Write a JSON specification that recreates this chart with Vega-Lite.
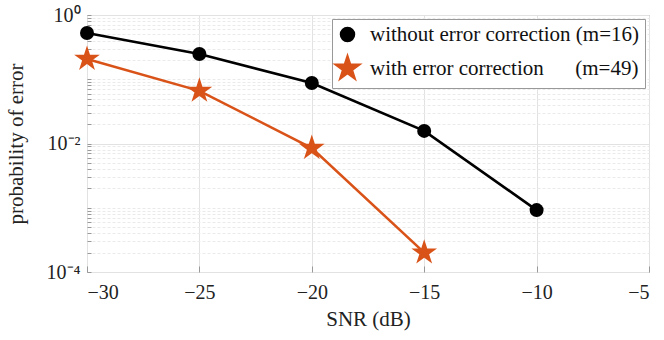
{
  "$schema": "https://vega.github.io/schema/vega-lite/v6.json",
  "width": 562,
  "height": 257,
  "autosize": {"type": "none"},
  "padding": {"left": 87, "top": 15, "right": 15, "bottom": 68},
  "background": "white",
  "config": {
    "view": {"stroke": "#999999", "strokeWidth": 1},
    "font": "Liberation Serif",
    "axis": {"labelFont": "Liberation Serif", "titleFont": "Liberation Serif", "labelColor": "#222222", "titleColor": "#222222", "titleFontWeight": "normal", "labelFontSize": 20, "titleFontSize": 21, "domain": false, "tickColor": "#999999"}
  },
  "data": {
    "values": [
      {"snr": -30, "pe": 0.525, "series": "without error correction (m=16)"},
      {"snr": -25, "pe": 0.247, "series": "without error correction (m=16)"},
      {"snr": -20, "pe": 0.0875, "series": "without error correction (m=16)"},
      {"snr": -15, "pe": 0.0157, "series": "without error correction (m=16)"},
      {"snr": -10, "pe": 0.00092, "series": "without error correction (m=16)"},
      {"snr": -30, "pe": 0.207, "series": "with error correction\u00a0\u00a0\u00a0\u00a0\u00a0\u00a0(m=49)"},
      {"snr": -25, "pe": 0.066, "series": "with error correction\u00a0\u00a0\u00a0\u00a0\u00a0\u00a0(m=49)"},
      {"snr": -20, "pe": 0.0085, "series": "with error correction\u00a0\u00a0\u00a0\u00a0\u00a0\u00a0(m=49)"},
      {"snr": -15, "pe": 0.0002, "series": "with error correction\u00a0\u00a0\u00a0\u00a0\u00a0\u00a0(m=49)"}
    ]
  },
  "encoding": {
    "x": {"field": "snr", "type": "quantitative", "scale": {"domain": [-30, -5], "nice": false, "zero": false},
      "axis": {"values": [-30, -25, -20, -15, -10, -5], "title": "SNR (dB)", "grid": true, "gridColor": "#e2e2e2", "tickSize": -6, "labelPadding": 16, "titlePadding": 6}},
    "y": {"field": "pe", "type": "quantitative", "scale": {"type": "log", "domain": [0.0001, 1], "nice": false},
      "axis": {"title": "probability of error", "titlePadding": 20, "labelPadding": 11,
        "values": [0.0001, 0.0002, 0.0003, 0.0004, 0.0005, 0.0006, 0.0007, 0.0008, 0.0009, 0.001, 0.002, 0.003, 0.004, 0.005, 0.006, 0.007, 0.008, 0.009, 0.01, 0.02, 0.03, 0.04, 0.05, 0.06, 0.07, 0.08, 0.09, 0.1, 0.2, 0.3, 0.4, 0.5, 0.6, 0.7, 0.8, 0.9, 1],
        "labelExpr": "datum.value == 1 ? '10⁰' : datum.value == 0.01 ? '10⁻²' : datum.value == 0.0001 ? '10⁻⁴' : ''",
        "grid": true,
        "gridColor": {"condition": {"test": "datum.value == 1 || datum.value == 0.01 || datum.value == 0.0001", "value": "#e2e2e2"}, "value": "#eaeaea"},
        "gridDash": {"condition": {"test": "datum.value == 1 || datum.value == 0.01 || datum.value == 0.0001", "value": []}, "value": [3, 2]},
        "tickSize": -4}},
    "color": {"field": "series", "type": "nominal", "scale": {"domain": ["without error correction (m=16)", "with error correction\u00a0\u00a0\u00a0\u00a0\u00a0\u00a0(m=49)"], "range": ["#000000", "#D95319"]},
      "legend": {"orient": "top-right", "offset": 4, "title": null, "labelFont": "Liberation Serif", "labelFontSize": 21, "labelColor": "#111111", "labelLimit": 0, "strokeColor": "#999999", "fillColor": "white", "padding": 5, "rowPadding": 6, "labelOffset": 12, "symbolSize": 196}}
  },
  "layer": [
    {
      "mark": {"type": "line", "strokeWidth": 2.6}
    },
    {
      "mark": {"type": "point", "filled": true, "opacity": 1, "size": 196},
      "encoding": {
        "shape": {"field": "series", "type": "nominal", "scale": {"domain": ["without error correction (m=16)", "with error correction\u00a0\u00a0\u00a0\u00a0\u00a0\u00a0(m=49)"], "range": ["circle", "M0,-1.93L0.433,-0.596L1.835,-0.596L0.701,0.228L1.135,1.561L0,0.737L-1.135,1.561L-0.701,0.228L-1.835,-0.596L-0.433,-0.596Z"]}}
      }
    }
  ]
}
